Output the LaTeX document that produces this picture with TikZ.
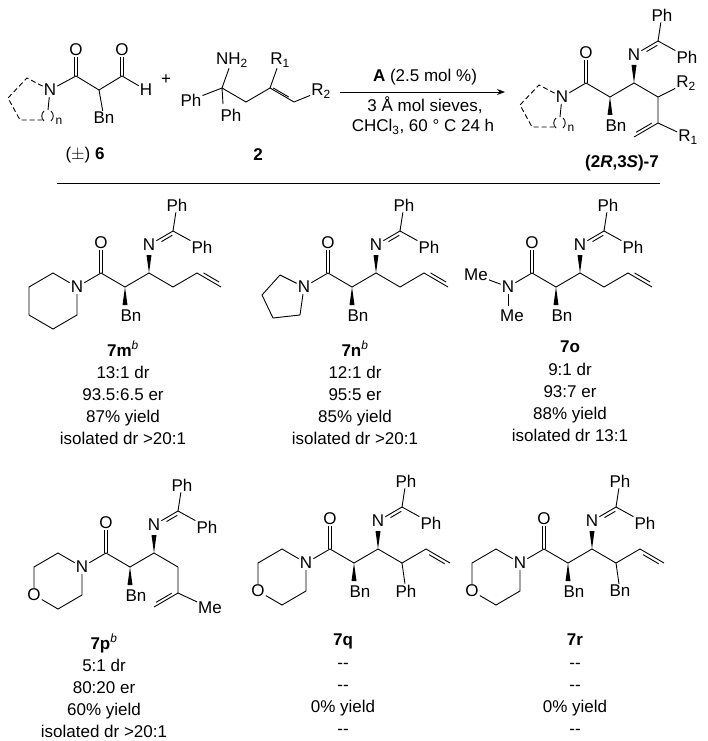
\documentclass[tikz,border=0pt]{standalone}
\usepackage{fontspec}
\setmainfont{Liberation Sans}
\usetikzlibrary{calc,arrows.meta}
\newcommand\chf{\fontsize{17}{18}\selectfont}
\tikzset{
 atom/.style={inner sep=1pt,font=\chf},
 bd/.style={line width=0.9pt},
 tbl/.style={align=center,anchor=north,font=\fontsize{17}{22.2}\selectfont,inner sep=0pt}
}
\newcommand\dblin[4]{\draw[bd] ($(#1)!0.2!(#2)+(#3,#4)$) -- ($(#1)!0.85!(#2)+(#3,#4)$);}
\newcommand\skel[1]{%
 \node[atom] (#1N) at (0,0) {N};
 \coordinate (#1c1) at (24,-14);
 \node[atom] (#1O) at (24,-44) {O};
 \coordinate (#1c2) at (48,0);
 \node[atom] (#1Bn) at (54,29) {Bn};
 \coordinate (#1c3) at (72,-14);
 \node[atom] (#1Ni) at (72,-42) {N};
 \coordinate (#1ci) at (96,-56);
 \node[atom] (#1P1) at (100,-82) {Ph};
 \node[atom] (#1P2) at (125,-40) {Ph};
 \coordinate (#1c4) at (96,0);
 \draw[bd] (#1N) -- (#1c1) -- (#1c2) -- (#1c3) -- (#1c4);
 \draw[bd] ($(#1c1)+(-1.8,0)$) -- ($(#1O.south)+(-1.8,0)$);
 \draw[bd] ($(#1c1)+(1.8,0)$) -- ($(#1O.south)+(1.8,0)$);
 \draw[bd] (#1Ni) -- (#1ci) -- (#1P1);
 \draw[bd] (#1ci) -- (#1P2);
 \draw[bd] ($(#1Ni)!0.45!(#1ci)+(1.7,2.9)$) -- ($(#1Ni)!0.9!(#1ci)+(1.7,2.9)$);
 \fill (#1c2) -- (45.5,18) -- (50.5,18) -- cycle;
 \fill (#1c3) -- (69.5,-32) -- (74.5,-32) -- cycle;
}
\newcommand\allyl[1]{%
 \coordinate (#1c5) at (120,-14); \coordinate (#1c6) at (144,0);
 \draw[bd] (#1c4) -- (#1c5) -- (#1c6);
 \dblin{#1c5}{#1c6}{1.7}{-2.9}
}
\newcommand\vinsub[2]{%
 \coordinate (#1c5) at (120,-14); \coordinate (#1c6) at (144,0);
 \node[atom] (#1S) at (100,28) {#2};
 \draw[bd] (#1c4) -- (#1c5) -- (#1c6);
 \draw[bd] (#1c4) -- (#1S);
 \dblin{#1c5}{#1c6}{-1.7}{2.9}
}
\newcommand\morph[1]{%
 \coordinate (#1r1) at (-24,-14); \coordinate (#1r2) at (-48,0);
 \node[atom] (#1rO) at (-48,28) {O};
 \coordinate (#1r4) at (-24,42); \coordinate (#1r5) at (0,28);
 \draw[bd] (#1N) -- (#1r1) -- (#1r2) -- (#1rO) -- (#1r4) -- (#1r5) -- (#1N);
}
\newcommand\dashring[1]{%
 \draw[bd,dash pattern=on 5pt off 3pt] (#1N) -- (-23,-12) -- (-42,8) -- (-30,30) -- (-8,30);
 \draw[bd] (#1N) -- (-2,20);
 \draw[bd] (-6,21) to[bend right=50] (-6,31);
 \draw[bd] (1,21) to[bend left=50] (1,31);
 \node[atom,font=\fontsize{12}{13}\selectfont] at (9,31) {n};
}
\begin{document}
\begin{tikzpicture}[x=1pt,y=-1pt]
\useasboundingbox (0,0) rectangle (708,741);
% ---------- header: compound 6 ----------
\begin{scope}[shift={(50,90)}]
 \node[atom] (hN) at (0,0) {N};
 \coordinate (hc1) at (26,-14);
 \node[atom] (hO1) at (26,-40) {O};
 \coordinate (hc2) at (49,0);
 \node[atom] (hBn) at (54,28) {Bn};
 \coordinate (hc3) at (72,-14);
 \node[atom] (hO2) at (72,-40) {O};
 \node[atom] (hH) at (96,0) {H};
 \draw[bd] (hN) -- (hc1) -- (hc2) -- (hc3) -- (hH);
 \draw[bd] (hc2) -- (hBn);
 \draw[bd] ($(hc1)+(-1.8,0)$) -- ($(hO1.south)+(-1.8,0)$);
 \draw[bd] ($(hc1)+(1.8,0)$) -- ($(hO1.south)+(1.8,0)$);
 \draw[bd] ($(hc3)+(-1.8,0)$) -- ($(hO2.south)+(-1.8,0)$);
 \draw[bd] ($(hc3)+(1.8,0)$) -- ($(hO2.south)+(1.8,0)$);
 \dashring{h}
\end{scope}
\node[atom] (l6) at (85,155) {($\pm$) \textbf{6}};
\node[atom] (plus) at (166,80) {+};
% ---------- compound 2 ----------
\coordinate (q) at (222,88);
\node[atom] (nh2) at (232,60) {NH\textsubscript{2}};
\node[atom] (pha) at (191,100) {Ph};
\node[atom] (phb) at (231,115) {Ph};
\coordinate (ch2) at (246,102);
\coordinate (ce) at (270,88);
\node[atom] (r1) at (280,60) {R\textsubscript{1}};
\coordinate (ch) at (294,102);
\node[atom] (r2) at (321,91) {R\textsubscript{2}};
\draw[bd] (nh2) -- (q) -- (pha);
\draw[bd] (q) -- (223,104);
\draw[bd] (q) -- (ch2) -- (ce) -- (ch) -- (r2);
\draw[bd] (ce) -- (r1);
\dblin{ce}{ch}{-1.7}{-2.9}
\node[atom] (l2) at (258,155) {\textbf{2}};
% ---------- arrow ----------
\coordinate (a0) at (340,92);
\coordinate (a1) at (505,92);
\draw[bd,-{Stealth[length=8pt,width=6pt]}] (a0) -- (a1);
\node[atom] (ca) at (425,77) {\textbf{A} (2.5 mol \%)};
\node[atom] (cb) at (425,105) {3 Å mol sieves,};
\node[atom] (cc) at (423,127) {CHCl\textsubscript{3}, 60 ° C 24 h};
% ---------- product 7 ----------
\begin{scope}[shift={(562,97)}]
 \skel{p}
 \node[atom] (pR2) at (124,-14) {R\textsubscript{2}};
 \coordinate (pc5) at (96,26); \coordinate (pe) at (72,40);
 \node[atom] (pR1) at (126,40) {R\textsubscript{1}};
 \draw[bd] (pc4) -- (pR2);
 \draw[bd] (pc4) -- (pc5) -- (pe);
 \draw[bd] (pc5) -- (pR1);
 \dblin{pc5}{pe}{-1.5}{-2.6}
 \dashring{p}
\end{scope}
\node[atom] (l7) at (622,163) {\textbf{(2\textit{R},3\textit{S})-7}};
\draw[line width=0.8pt] (57,183) -- (660,183);
% ---------- 7m ----------
\begin{scope}[shift={(77,287)}]
 \skel{m} \allyl{m}
 \coordinate (mr1) at (-24,-14); \coordinate (mr2) at (-48,0); \coordinate (mr3) at (-48,28);
 \coordinate (mr4) at (-24,42); \coordinate (mr5) at (0,28);
 \draw[bd] (mN) -- (mr1) -- (mr2) -- (mr3) -- (mr4) -- (mr5) -- (mN);
\end{scope}
% ---------- 7n ----------
\begin{scope}[shift={(304,287)}]
 \skel{n} \allyl{n}
 \coordinate (nr1) at (-24,-12); \coordinate (nr2) at (-42,8);
 \coordinate (nr3) at (-31,31); \coordinate (nr4) at (-4,28);
 \draw[bd] (nN) -- (nr1) -- (nr2) -- (nr3) -- (nr4) -- (nN);
\end{scope}
% ---------- 7o ----------
\begin{scope}[shift={(508,287)}]
 \skel{o} \allyl{o}
 \node[atom] (oMe1) at (-32,-12) {Me};
 \node[atom] (oMe2) at (4,29) {Me};
 \draw[bd] (oN) -- (oMe1);
 \draw[bd] (oN) -- (0,19);
\end{scope}
% ---------- 7p ----------
\begin{scope}[shift={(82,567)}]
 \skel{t} \morph{t}
 \coordinate (tc5) at (96,26); \coordinate (te) at (72,40);
 \node[atom] (tMe) at (128,41) {Me};
 \draw[bd] (tc4) -- (tc5) -- (te);
 \draw[bd] (tc5) -- (tMe);
 \dblin{tc5}{te}{-1.5}{-2.6}
\end{scope}
% ---------- 7q ----------
\begin{scope}[shift={(306,563)}]
 \skel{q} \morph{q} \vinsub{q}{Ph}
\end{scope}
% ---------- 7r ----------
\begin{scope}[shift={(520,563)}]
 \skel{r} \morph{r} \vinsub{r}{Bn}
\end{scope}
% ---------- data ----------
\node[tbl] (dm) at (123,341) {\textbf{7m}\textsuperscript{\textit{b}}\\13:1 dr\\93.5:6.5 er\\87\% yield\\isolated dr >20:1};
\node[tbl] (dn) at (355,341) {\textbf{7n}\textsuperscript{\textit{b}}\\12:1 dr\\95:5 er\\85\% yield\\isolated dr >20:1};
\node[tbl] (do) at (570,341) {\textbf{7o}\\9:1 dr\\93:7 er\\88\% yield\\isolated dr 13:1};
\node[tbl] (dp) at (104,634) {\textbf{7p}\textsuperscript{\textit{b}}\\5:1 dr\\80:20 er\\60\% yield\\isolated dr >20:1};
\node[tbl] (dq) at (343,634) {\textbf{7q}\\{-}{-}\\{-}{-}\\0\% yield\\{-}{-}};
\node[tbl] (dr) at (575,634) {\textbf{7r}\\{-}{-}\\{-}{-}\\0\% yield\\{-}{-}};
\end{tikzpicture}
\end{document}
